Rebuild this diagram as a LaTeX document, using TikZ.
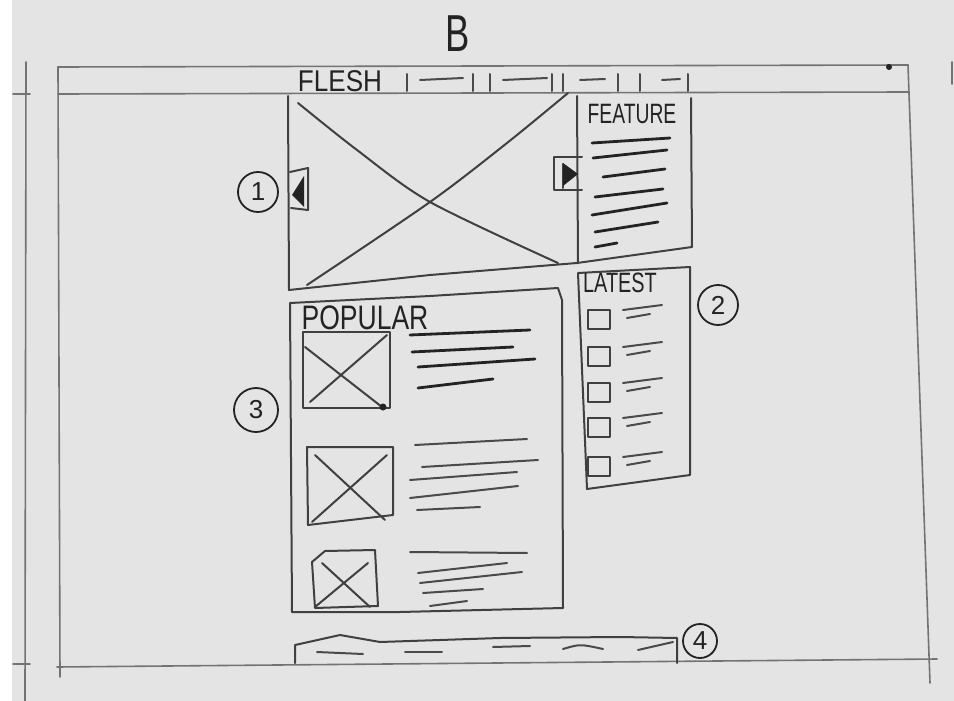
\documentclass[tikz,border=0pt]{standalone}
\usepackage{amsmath, amssymb}
\usepackage{fontspec}
\setmainfont{Liberation Sans}
\usepackage{tikz}
\usepackage{xcolor}

\definecolor{paper}{RGB}{228,228,228}
\definecolor{pencil}{RGB}{115,115,115}
\definecolor{marker}{RGB}{35,35,35}

\tikzset{
  frameline/.style={draw=pencil,line width=1.6pt,line cap=round},
  boxline/.style={draw=marker!85!paper,line width=2pt,line cap=round,line join=round},
  txtline/.style={draw=marker,line width=2.8pt,line cap=round},
  thinline/.style={draw=marker!80!paper,line width=2pt,line cap=round},
  handtext/.style={text=marker,inner sep=0pt},
  numcircle/.style={circle,draw=marker,line width=1.8pt,inner sep=0pt,minimum size=40pt,
    font=\fontsize{26}{26}\selectfont,text=marker},
}

\begin{document}
\begin{tikzpicture}[x=1pt,y=-1pt]
                \useasboundingbox (0,0) rectangle (954,701);
                \fill[paper] (0,0) rectangle (954,701);
                \fill[white] (0,0) rectangle (12,701);

                % page frame and margin
                \draw[frameline] (26,62) -- (25,701);
                \draw[frameline] (13,94) -- (30,94);
                \draw[frameline] (13,664) -- (30,664);
                \draw[frameline] (58,67) -- (908,65);
                \draw[frameline] (58,94) -- (908,92);
                \draw[frameline] (58,67) -- (60,677);
                \draw[frameline] (908,65) -- (930,683);
                \draw[frameline] (57,667) -- (937,659);
                \draw[frameline] (952,62) -- (952,84);
                \fill[marker] (889,67) circle (3pt);

                \node[handtext,font=\fontsize{52}{52}\selectfont] (title) at (458,34) {\scalebox{0.7}[1]{B}};

                % nav bar
                \node[handtext,font=\fontsize{30}{30}\selectfont] (brand) at (340,81) {\scalebox{0.87}[1]{FLESH}};
                \foreach \x in {407,473,490,552,563,618,640,688}
                    \draw[thinline] (\x,74) -- (\x,91);
                \draw[thinline] (420,80) -- (463,78);
                \draw[thinline] (503,80) -- (547,78);
                \draw[thinline] (580,80) -- (605,79);
                \draw[thinline] (662,80) -- (680,79);

                % hero image + feature column
                \draw[boxline] (288,96) -- (289,290) -- (430,275) -- (577,263) -- (692,247) -- (691,98);
                \draw[boxline] (577,96) -- (578,263);
                \draw[boxline] plot[smooth] coordinates {(298,103) (357,150) (430,202) (558,263)};
                \draw[boxline] plot[smooth] coordinates {(307,285) (430,202) (507,143) (568,93)};
                \node[handtext,font=\fontsize{28}{28}\selectfont] (feature) at (632,114) {\scalebox{0.69}[1]{FEATURE}};
                \draw[txtline] (592,143) -- (670,138);
                \draw[txtline] (593,158) -- (667,150);
                \draw[txtline] (603,177) -- (665,169);
                \draw[txtline] (595,197) -- (663,189);
                \draw[txtline] (592,215) -- (667,203);
                \draw[txtline] (595,232) -- (658,222);
                \draw[txtline] (595,247) -- (617,243);

                % slider arrows
                \draw[boxline] (290,172) -- (308,168) -- (308,210) -- (291,208);
                \fill[marker] (292,195) -- (304,176) -- (304,207) -- cycle;
                \draw[boxline] (582,157) -- (554,157) -- (554,190) -- (582,190);
                \draw[boxline] (563,164) -- (563,188);
                \fill[marker] (563,163) -- (578,174) -- (563,186) -- cycle;

                % latest list
                \draw[boxline] (578,273) -- (690,267) -- (690,475) -- (587,489) -- cycle;
                \node[handtext,font=\fontsize{28}{28}\selectfont] (latest) at (620,283) {\scalebox{0.71}[1]{LATEST}};
                \foreach \y in {320,357,393,428,467} {
                    \draw[boxline] (588,\y-10) rectangle (610,\y+9);
                    \draw[thinline] (623,\y-10) -- (662,\y-15);
                    \draw[thinline] (627,\y-2) -- (650,\y-6);
                }

                % popular list
                \draw[boxline] (292,612) -- (290,303) -- (430,296) -- (558,288) -- (562,300) -- (563,608) -- (400,612) -- cycle;
                \node[handtext,font=\fontsize{34}{34}\selectfont] (popular) at (365,318) {\scalebox{0.78}[1]{POPULAR}};
                \draw[boxline] (303,332) rectangle (390,408);
                \draw[boxline] (305,347) -- (382,407);
                \draw[boxline] (310,402) -- (387,335);
                \fill[marker] (383,407) circle (3.5pt);
                \draw[txtline] (410,335) -- (530,330);
                \draw[txtline] (412,352) -- (513,347);
                \draw[txtline] (418,367) -- (535,359);
                \draw[txtline] (418,388) -- (493,379);

                \draw[boxline] (307,447) -- (393,447) -- (393,515) -- (308,525) -- cycle;
                \draw[boxline] (315,455) -- (385,520);
                \draw[boxline] (387,455) -- (312,522);
                \draw[thinline] (415,445) -- (527,439);
                \draw[thinline] (422,467) -- (538,460);
                \draw[thinline] (410,480) -- (517,472);
                \draw[thinline] (410,498) -- (518,486);
                \draw[thinline] (417,510) -- (480,507);

                \draw[boxline] (312,562) -- (325,551) -- (375,550) -- (378,606) -- (315,608) -- cycle;
                \draw[boxline] (322,563) -- (370,607);
                \draw[boxline] (368,563) -- (315,607);
                \draw[thinline] (410,552) -- (527,553);
                \draw[thinline] (418,573) -- (507,563);
                \draw[thinline] (420,583) -- (522,572);
                \draw[thinline] (423,593) -- (483,589);
                \draw[thinline] (430,606) -- (467,601);

                % footer
                \draw[boxline] (295,663) -- (295,645) -- (340,635) -- (380,642) -- (500,638) -- (620,637) -- (677,638) -- (677,663);
                \draw[thinline] (317,652) -- (363,654);
                \draw[thinline] (405,652) -- (442,652);
                \draw[thinline] (493,647) -- (530,646);
                \draw[thinline] (563,649) .. controls (580,644) .. (603,649);
                \draw[thinline] (638,650) -- (673,642);

                % section numbers
                \node[numcircle] (num1) at (258,192) {1};
                \node[numcircle] (num2) at (718,305) {2};
                \node[numcircle,minimum size=44pt] (num3) at (256,410) {3};
                \node[numcircle,minimum size=34pt] (num4) at (700,641) {4};
            \end{tikzpicture}
\end{document}
